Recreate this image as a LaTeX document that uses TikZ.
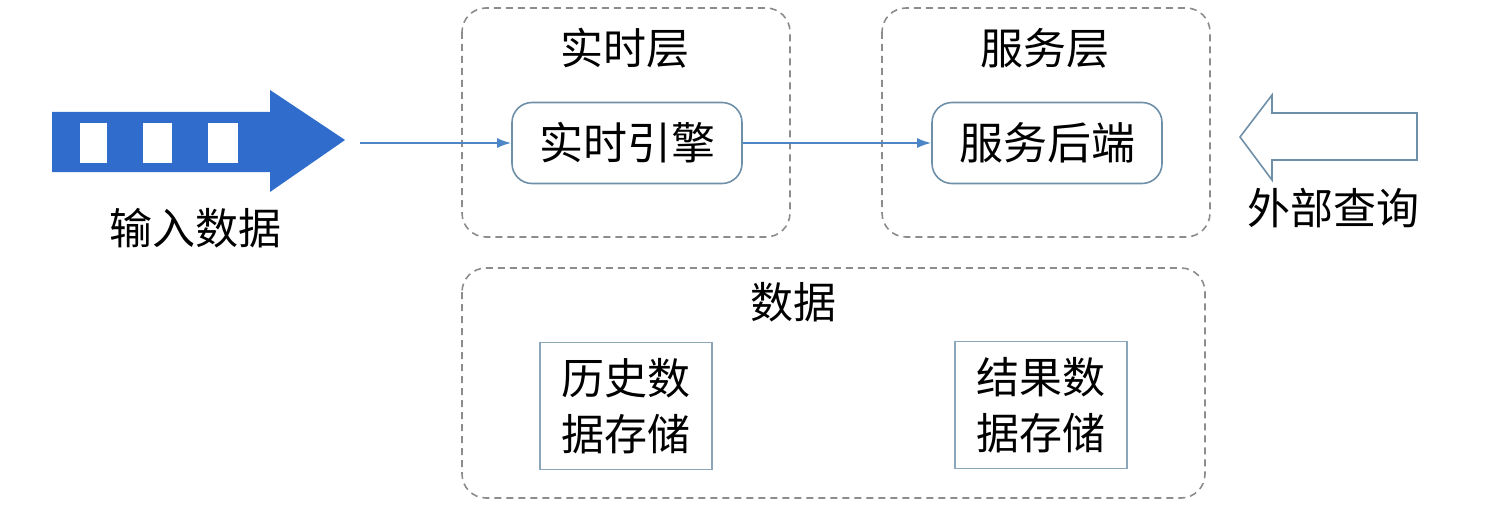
\documentclass[tikz,border=0pt]{standalone}
\usepackage{fontspec}
\setmainfont{Noto Sans CJK SC}
\usetikzlibrary{arrows.meta}
\definecolor{bigblue}{HTML}{2F6CCB}
\definecolor{lineblue}{HTML}{4C86C6}
\definecolor{boxedge}{HTML}{6E8FA8}
\definecolor{dashgray}{HTML}{8C8C8C}
\tikzset{
  layer/.style={draw=dashgray, line width=1.6pt, dash pattern=on 7pt off 5pt, rounded corners=24pt},
  proc/.style={draw=boxedge, line width=1.6pt, rounded corners=20pt, minimum width=230pt, minimum height=81pt, font=\fontsize{44}{52}\selectfont, inner sep=0pt},
  store/.style={draw=boxedge!80, line width=1.4pt, minimum width=172pt, minimum height=127pt, align=center, font=\fontsize{43}{56}\selectfont, inner sep=0pt},
  lbl/.style={font=\fontsize{43}{50}\selectfont, inner sep=0pt},
  conn/.style={draw=lineblue, line width=1.8pt, -{Latex[length=14pt,width=10pt]}}
}
\begin{document}
\begin{tikzpicture}[x=1pt,y=-1pt]
\useasboundingbox (0,0) rectangle (1488,508);
% layers
\draw[layer] (462,8) rectangle (790,237);
\draw[layer] (882,8) rectangle (1210,237);
\draw[layer] (462,268) rectangle (1205,498);
\node[lbl] (rtl) at (625,48) {实时层};
\node[lbl] (svl) at (1045,48) {服务层};
\node[lbl] (dat) at (793,302) {数据};
% process nodes
\node[proc] (eng) at (627,143) {实时引擎};
\node[proc] (srv) at (1047,143) {服务后端};
% storage
\node[store] (hist) at (626,406) {历史数\\据存储};
\node[store] (res) at (1041,405) {结果数\\据存储};
% input big arrow
\fill[bigblue] (52,112) -- (270,112) -- (270,90) -- (345,140) -- (270,192) -- (270,172) -- (52,172) -- cycle;
\fill[white] (80,123) rectangle (107,163);
\fill[white] (143,123) rectangle (172,163);
\fill[white] (208,123) rectangle (238,163);
\coordinate (intip) at (360,143);
\node[lbl] (inlbl) at (195,228) {输入数据};
% external query outline arrow
\draw[draw=boxedge, line width=1.6pt, line join=miter] (1417,113) -- (1272,113) -- (1272,95) -- (1240,137) -- (1272,180) -- (1272,160) -- (1417,160) -- cycle;
\node[lbl] (qlbl) at (1333,208) {外部查询};
% connectors
\draw[conn] (intip) -- (eng.west);
\draw[conn] (eng.east) -- (srv.west);
\end{tikzpicture}
\end{document}
